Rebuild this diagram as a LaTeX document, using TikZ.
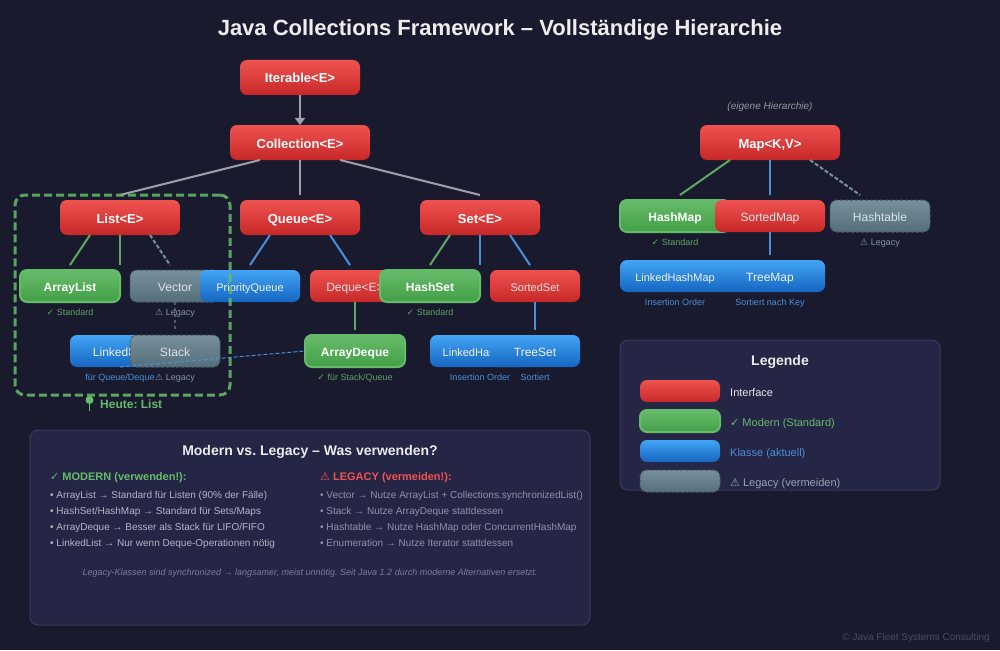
\documentclass[tikz,border=0pt]{standalone}
\usepackage{fontspec}
\setmainfont{Liberation Sans}
\newfontfamily\symfont{DejaVu Sans}
\usetikzlibrary{calc,arrows.meta}
\definecolor{bgc}{HTML}{1A1A2E}
\definecolor{panelc}{HTML}{252546}
\definecolor{panelb}{HTML}{3A3A5C}
\definecolor{grn}{HTML}{66BB6A}
\definecolor{blu}{HTML}{4A90D9}
\definecolor{gry}{HTML}{78909C}
\definecolor{lin}{HTML}{A0A0A8}
\newcommand{\ck}{{\symfont ✓}}
\newcommand{\wn}{{\symfont ⚠}}
\tikzset{
 box/.style={rectangle,rounded corners=7pt,inner sep=0pt,outer sep=0pt,text height=11pt,text depth=0pt,align=center},
 iface/.style={box,top color=ifacetop,bottom color=ifacebot,text=white,font=\bfseries\fontsize{13}{15}\selectfont},
 ifacesm/.style={box,top color=ifacetop,bottom color=ifacebot,text=white!90!black,font=\fontsize{11}{14}\selectfont,minimum height=32pt},
 modern/.style={box,top color=greentop,bottom color=greenbot,draw=grn,line width=2pt,text=white,font=\bfseries\fontsize{12}{15}\selectfont,minimum height=32pt,minimum width=100pt},
 klasse/.style={box,top color=bluetop,bottom color=bluebot,text=white!95!black,font=\fontsize{11}{14}\selectfont,minimum height=32pt},
 legacy/.style={box,top color=gry,bottom color=graybot,draw=graybord,line width=1pt,dash pattern=on 3pt off 2pt,text=white!75!gry,font=\fontsize{12}{15}\selectfont,minimum height=32pt,minimum width=90pt},
 sub/.style={anchor=base,inner sep=0pt,font=\fontsize{9}{11}\selectfont},
 gline/.style={lin,line width=2pt},
 mline/.style={grn!88!bgc,line width=2pt},
 bline/.style={blu,line width=2pt},
 lline/.style={gry,line width=2pt,dash pattern=on 4pt off 2pt},
 panel/.style={rectangle,rounded corners=8pt,fill=panelc,draw=panelb,line width=1pt,inner sep=0pt,outer sep=0pt},
 txt/.style={anchor=base west,inner sep=0pt,font=\fontsize{10}{12}\selectfont},
 ltxt/.style={anchor=base west,inner sep=0pt,font=\fontsize{11}{13}\selectfont},
 ttl/.style={anchor=base,inner sep=0pt,text=white!92!black,font=\bfseries\fontsize{14}{18}\selectfont},
}
\definecolor{ifacetop}{HTML}{EF5350}
\definecolor{ifacebot}{HTML}{C62828}
\definecolor{greentop}{HTML}{66BB6A}
\definecolor{greenbot}{HTML}{43A047}
\definecolor{bluetop}{HTML}{42A5F5}
\definecolor{bluebot}{HTML}{1565C0}
\definecolor{graybot}{HTML}{546E7A}
\definecolor{graybord}{HTML}{455A64}
\definecolor{mlist}{HTML}{B4B4C8}
\definecolor{llist}{HTML}{9092A8}
\definecolor{foot}{HTML}{7A7C98}
\definecolor{copyc}{HTML}{4A4A60}
\definecolor{redt}{HTML}{EF5350}
\begin{document}
\frenchspacing
\begin{tikzpicture}[x=1pt,y=-1pt]
\useasboundingbox (0,0) rectangle (1000,650);
\fill[bgc] (0,0) rectangle (1000,650);
\node[anchor=base,inner sep=0pt,text=white!93!black,font=\bfseries\fontsize{22}{28}\selectfont] (title) at (500,36) {Java Collections Framework – Vollständige Hierarchie};
% panels
\node[panel,minimum width=560pt,minimum height=195pt] (pmod) at (310,527.5) {};
\node[panel,minimum width=320pt,minimum height=150pt] (pleg) at (780,415) {};
% top
\node[iface,minimum width=120pt,minimum height=35pt] (iter) at (300,77.5) {Iterable<E>};
\node[iface,minimum width=140pt,minimum height=35pt] (coll) at (300,142.5) {Collection<E>};
\node[iface,minimum width=120pt,minimum height=35pt] (list) at (120,217.5) {List<E>};
\node[iface,minimum width=120pt,minimum height=35pt] (queue) at (300,217.5) {Queue<E>};
\node[iface,minimum width=120pt,minimum height=35pt] (set) at (480,217.5) {Set<E>};
% list family
\node[modern] (alist) at (70,286) {ArrayList};
\node[legacy] (vector) at (175,286) {Vector};
\node[klasse,minimum width=100pt,font=\fontsize{12}{15}\selectfont] (llist) at (120,351) {LinkedList};
\node[legacy] (stack) at (175,351) {Stack};
% queue family
\node[klasse,minimum width=100pt] (pq) at (250,286) {PriorityQueue};
\node[ifacesm,minimum width=90pt,font=\fontsize{12}{15}\selectfont] (deque) at (355,286) {Deque<E>};
\node[modern] (adeque) at (355,351) {ArrayDeque};
% set family
\node[modern] (hset) at (430,286) {HashSet};
\node[ifacesm,minimum width=90pt] (sset) at (535,286) {SortedSet};
\node[klasse,minimum width=100pt] (lhset) at (480,351) {LinkedHashSet};
\node[klasse,minimum width=90pt,font=\fontsize{12}{15}\selectfont] (tset) at (535,351) {TreeSet};
% map family
\node[iface,minimum width=140pt,minimum height=35pt] (map) at (770,142.5) {Map<K,V>};
\node[modern,minimum width=110pt] (hmap) at (675,216) {HashMap};
\node[ifacesm,minimum width=110pt,font=\fontsize{12}{15}\selectfont] (smap) at (770,216) {SortedMap};
\node[legacy,minimum width=100pt] (htab) at (880,216) {Hashtable};
\node[klasse,minimum width=110pt] (lhmap) at (675,276) {LinkedHashMap};
\node[klasse,minimum width=110pt,font=\fontsize{12}{15}\selectfont] (tmap) at (770,276) {TreeMap};
% connectors
\draw[gline,-{Triangle[length=7pt,width=10pt]}] (iter.south) -- (coll.north);
\draw[gline] ($(coll.south)+(-40,0)$) -- ($(list.north)+(0,-5)$);
\draw[gline] (coll.south) -- ($(queue.north)+(0,-5)$);
\draw[gline] ($(coll.south)+(40,0)$) -- ($(set.north)+(0,-5)$);
\draw[mline] ($(list.south)+(-30,0)$) -- ($(alist.north)+(0,-5)$);
\draw[mline] (list.south) -- ($(list.south)+(0,30)$);
\draw[lline] ($(list.south)+(30,0)$) -- ($(list.south)+(50,30)$);
\draw[gry!55!bgc,line width=2pt,dash pattern=on 3pt off 3pt] (vector.south) -- ($(stack.north)+(0,-5)$);
\draw[bline] ($(queue.south)+(-30,0)$) -- ($(pq.north)+(0,-5)$);
\draw[bline] ($(queue.south)+(30,0)$) -- ($(deque.north)+(-5,-5)$);
\draw[mline] (deque.south) -- ($(adeque.north)+(0,-5)$);
\draw[mline] ($(set.south)+(-30,0)$) -- ($(hset.north)+(0,-5)$);
\draw[bline] (set.south) -- ($(set.south)+(0,30)$);
\draw[bline] ($(set.south)+(30,0)$) -- ($(sset.north)+(-5,-5)$);
\draw[bline] (sset.south) -- ($(tset.north)+(0,-5)$);
\draw[blu,line width=1pt,dash pattern=on 4pt off 2pt] (llist.south) -- (adeque.west);
\draw[mline] ($(map.south)+(-40,0)$) -- ($(hmap.north)+(5,-5)$);
\draw[bline] (map.south) -- ($(smap.north)+(0,-5)$);
\draw[lline] ($(map.south)+(40,0)$) -- ($(htab.north)+(-20,-5)$);
\draw[bline] (smap.south) -- ($(tmap.north)+(0,-5)$);
% sub labels
\node[sub,text=grn!85!bgc] (l1) at (70,315) {\ck{} Standard};
\node[sub,text=gry!95!white] (l2) at (175,315) {\wn{} Legacy};
\node[sub,text=blu] (l3) at (120,380) {für Queue/Deque};
\node[sub,text=gry!95!white] (l4) at (175,380) {\wn{} Legacy};
\node[sub,text=grn!85!bgc] (l5) at (355,380) {\ck{} für Stack/Queue};
\node[sub,text=grn!85!bgc] (l6) at (430,315) {\ck{} Standard};
\node[sub,text=blu] (l7) at (480,380) {Insertion Order};
\node[sub,text=blu] (l8) at (535,380) {Sortiert};
\node[sub,text=grn!85!bgc] (l9) at (675,245) {\ck{} Standard};
\node[sub,text=gry!95!white] (l10) at (880,245) {\wn{} Legacy};
\node[sub,text=blu] (l11) at (675,305) {Insertion Order};
\node[sub,text=blu] (l12) at (770,305) {Sortiert nach Key};
\node[anchor=base,inner sep=0pt,text=white!55!bgc,font=\itshape\fontsize{10}{12}\selectfont] (eig) at (770,110) {(eigene Hierarchie)};
% highlight
\node[rectangle,rounded corners=10pt,draw=grn,line width=3pt,dash pattern=on 8pt off 4pt,draw opacity=.85,minimum width=215pt,minimum height=200pt,inner sep=0pt] (hl) at (122.5,295) {};
\fill[grn] (89.5,400) circle (4pt);
\draw[grn,line width=1.2pt] (89.5,400) -- (89.5,411);
\node[anchor=base west,inner sep=0pt,text=grn,font=\bfseries\fontsize{12}{15}\selectfont] (heute) at (100,408) {Heute: List};
% legend
\node[ttl] (legt) at (780,365) {Legende};
\node[box,top color=ifacetop,bottom color=ifacebot,minimum width=80pt,minimum height=22pt] (s1) at (680,391) {};
\node[box,top color=greentop,bottom color=greenbot,draw=grn,line width=2pt,minimum width=80pt,minimum height=22pt] (s2) at (680,421) {};
\node[box,top color=bluetop,bottom color=bluebot,minimum width=80pt,minimum height=22pt] (s3) at (680,451) {};
\node[box,top color=gry,bottom color=graybot,draw=graybord,line width=1pt,dash pattern=on 3pt off 2pt,minimum width=80pt,minimum height=22pt] (s4) at (680,481) {};
\node[ltxt,text=white!90!black] (t1) at (730,396) {Interface};
\node[ltxt,text=grn] (t2) at (730,426) {\ck{} Modern (Standard)};
\node[ltxt,text=blu] (t3) at (730,456) {Klasse (aktuell)};
\node[ltxt,text=gry!80!white] (t4) at (730,486) {\wn{} Legacy (vermeiden)};
% modern vs legacy
\node[ttl] (mvl) at (310,455) {Modern vs. Legacy – Was verwenden?};
\node[anchor=base west,inner sep=0pt,text=grn,font=\bfseries\fontsize{11}{13}\selectfont] (mh) at (50,480) {\ck{} MODERN (verwenden!):};
\node[anchor=base west,inner sep=0pt,text=redt,font=\bfseries\fontsize{11}{13}\selectfont] (lh) at (320,480) {\wn{} LEGACY (vermeiden!):};
\node[txt,text=mlist] (m1) at (50,498) {• ArrayList → Standard für Listen (90\% der Fälle)};
\node[txt,text=mlist] (m2) at (50,514) {• HashSet/HashMap → Standard für Sets/Maps};
\node[txt,text=mlist] (m3) at (50,530) {• ArrayDeque → Besser als Stack für LIFO/FIFO};
\node[txt,text=mlist] (m4) at (50,546) {• LinkedList → Nur wenn Deque-Operationen nötig};
\node[txt,text=llist] (g1) at (320,498) {• Vector → Nutze ArrayList + Collections.synchronizedList()};
\node[txt,text=llist] (g2) at (320,514) {• Stack → Nutze ArrayDeque stattdessen};
\node[txt,text=llist] (g3) at (320,530) {• Hashtable → Nutze HashMap oder ConcurrentHashMap};
\node[txt,text=llist] (g4) at (320,546) {• Enumeration → Nutze Iterator stattdessen};
\node[anchor=base,inner sep=0pt,text=foot,font=\itshape\fontsize{9}{11}\selectfont] (fn) at (310,575) {Legacy-Klassen sind synchronized → langsamer, meist unnötig. Seit Java 1.2 durch moderne Alternativen ersetzt.};
\node[anchor=base east,inner sep=0pt,text=copyc,font=\fontsize{10}{13}\selectfont] (copy) at (990,640) {© Java Fleet Systems Consulting};
\end{tikzpicture}
\end{document}
